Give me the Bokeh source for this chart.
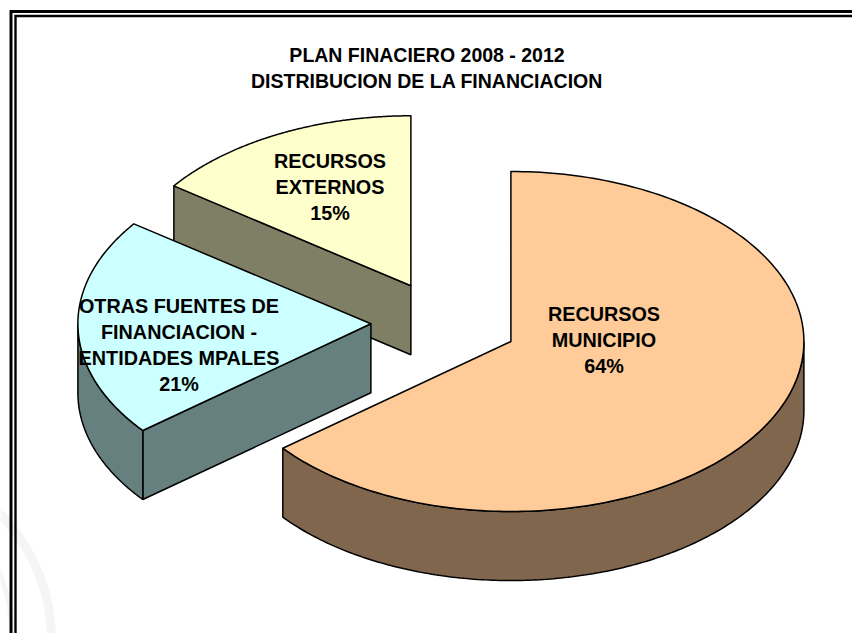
import numpy as np
from bokeh.plotting import figure
from bokeh.models import Range1d
from bokeh.core.properties import value
from bokeh.embed import file_html
from bokeh.resources import INLINE

# --- data ---
categories = ["RECURSOS MUNICIPIO", "OTRAS FUENTES DE FINANCIACION - ENTIDADES MPALES", "RECURSOS EXTERNOS"]
shares = [64.2, 20.8, 15.0]
label_lines = [["RECURSOS", "MUNICIPIO"],
               ["OTRAS FUENTES DE", "FINANCIACION -", "ENTIDADES MPALES"],
               ["RECURSOS", "EXTERNOS"]]
title_lines = ["PLAN FINACIERO 2008 - 2012", "DISTRIBUCION DE LA FINANCIACION"]

# --- styling and layout ---
top_colors = ["#FFCC99", "#CCFFFF", "#FFFFCC"]
side_colors = ["#7F664C", "#667F7F", "#7F7F66"]
apex_x = [510.4, 370.4, 410.4]
apex_y = [341, 323.3, 285.3]
label_x = [603.5, 178.5, 329.5]
label_y = [313, 305, 160]
RX, RY, DEPTH = 293, 170, 69
LINE_H = 26
FS = "19.8px"
TFS = "19.5px"

W, H = 852, 633
p = figure(width=W, height=H, output_backend="svg", toolbar_location=None,
           x_range=Range1d(0, W), y_range=Range1d(H, 0), min_border=0)
p.axis.visible = False
p.grid.visible = False
p.outline_line_color = None
p.background_fill_color = "white"
p.border_fill_color = "white"

# faint watermark arcs in the lower-left background
for cx, cy, r, w in [(-130, 640, 181, 9), (-170, 640, 182, 5)]:
    t = np.linspace(-0.9, 0.05, 60)
    p.line(cx + r * np.cos(t), cy + r * np.sin(t), line_color="#F5F5F5", line_width=w)

# double frame, open at the right and bottom
for inset, w in [(10.5, 3), (15, 2.4)]:
    p.line([W + 2, inset, inset], [inset + 0.5, inset + 0.5, H + 2], line_color="black", line_width=w,
           line_join="miter")

def ell(cx, cy, th):
    return cx + RX * np.sin(th), cy - RY * np.cos(th)

edges = np.cumsum([0] + shares) / sum(shares) * 2 * np.pi
LW = 1.5

# paint back to front: yellow, cyan, orange
for i in [2, 1, 0]:
    a0, a1 = edges[i], edges[i + 1]
    cx, cy = apex_x[i], apex_y[i]
    th = np.linspace(a0, a1, 200)
    ex, ey = ell(cx, cy, th)
    # radial face on the start side of the exploded wedges
    if i != 0:
        sx, sy = ell(cx, cy, a0)
        p.patch([cx, sx, sx, cx], [cy, sy, sy + DEPTH, cy + DEPTH],
                fill_color=side_colors[i], line_color="black", line_width=LW)
    # outer rim where it lies on the front half of the ellipse
    lo, hi = max(a0, np.pi / 2), min(a1, 3 * np.pi / 2)
    if lo < hi:
        tr = np.linspace(lo, hi, 200)
        rx, ry = ell(cx, cy, tr)
        p.patch(np.r_[rx, rx[::-1]], np.r_[ry, ry[::-1] + DEPTH],
                fill_color=side_colors[i], line_color="black", line_width=LW)
    # top face
    p.patch(np.r_[cx, ex], np.r_[cy, ey], fill_color=top_colors[i], line_color="black",
            line_width=LW, line_join="round")

# texts
tx, ty, tt = [], [], []
for i in range(3):
    lines = label_lines[i] + [f"{round(shares[i])}%"]
    for k, s in enumerate(lines):
        tx.append(label_x[i]); ty.append(label_y[i] + k * LINE_H); tt.append(s)
p.text(tx, ty, text=tt, text_font=value("Liberation Sans"), text_font_style="bold",
       text_font_size=FS, text_align="center", text_baseline="middle", text_color="black")
p.text([426.5, 426.5], [54, 80.2], text=title_lines, text_font=value("Liberation Sans"), text_font_style="bold",
       text_font_size=TFS, text_align="center", text_baseline="middle", text_color="black")

open("out.html", "w").write(file_html(p, INLINE))
